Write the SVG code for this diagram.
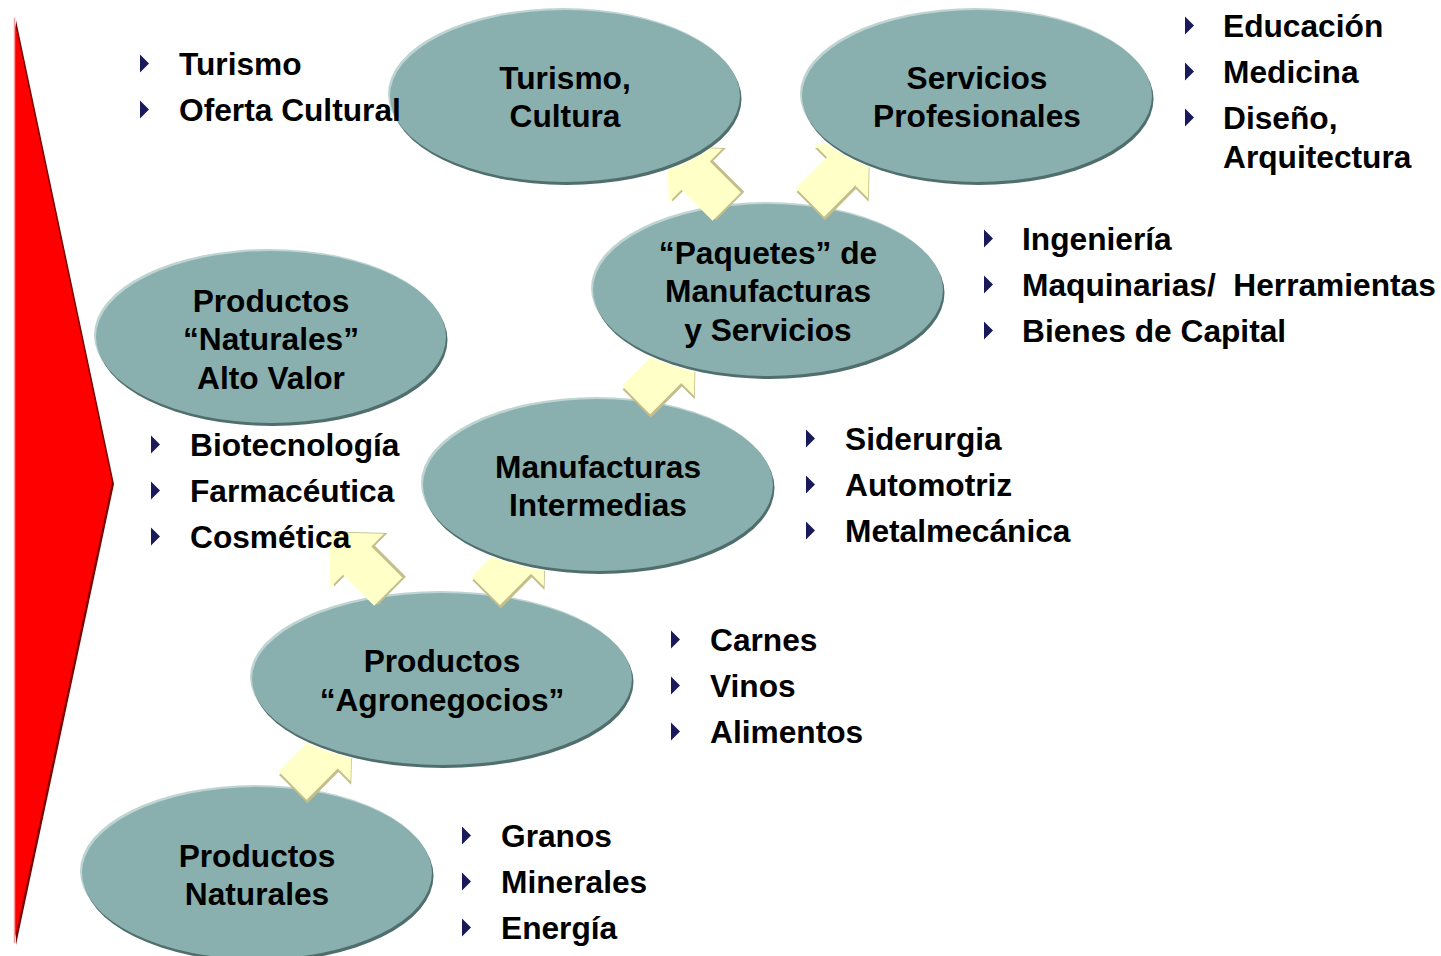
<svg xmlns="http://www.w3.org/2000/svg" width="1441" height="956" viewBox="0 0 1441 956">
<style>
.lbl{font-family:"Liberation Sans",Arial,sans-serif;font-weight:bold;font-size:31.7px;fill:#000;white-space:pre}
.c{text-anchor:middle}
.ell{fill:#89B0AE}
.rim{fill:#4F6E6C}
.hi{fill:#BDD4D2}
.arr{fill:#FFFFC8}
.arrs{fill:#C4BE8A}
.bul{fill:#1A1A5A}
</style>
<defs>
<path id="arrow" d="M-20,0 L-20,-44 L-38,-44 L0,-84 L38,-44 L20,-44 L20,0 Z"/>
<path id="bullet" d="M0,0 L9,9 L0,18 Z"/>
<mask id="m-agro" maskUnits="userSpaceOnUse" x="0" y="0" width="1441" height="956"><rect width="1441" height="956" fill="#fff"/><ellipse cx="443" cy="680" rx="192" ry="89" fill="#000"/></mask>
<mask id="m-alto" maskUnits="userSpaceOnUse" x="0" y="0" width="1441" height="956"><rect width="1441" height="956" fill="#fff"/><ellipse cx="272" cy="338" rx="177" ry="89" fill="#000"/></mask>
<mask id="m-manuf" maskUnits="userSpaceOnUse" x="0" y="0" width="1441" height="956"><rect width="1441" height="956" fill="#fff"/><ellipse cx="599" cy="486" rx="177" ry="89" fill="#000"/></mask>
<mask id="m-paq" maskUnits="userSpaceOnUse" x="0" y="0" width="1441" height="956"><rect width="1441" height="956" fill="#fff"/><ellipse cx="769" cy="291" rx="177" ry="89" fill="#000"/></mask>
<mask id="m-tur" maskUnits="userSpaceOnUse" x="0" y="0" width="1441" height="956"><rect width="1441" height="956" fill="#fff"/><ellipse cx="566" cy="97" rx="177" ry="89" fill="#000"/></mask>
<mask id="m-serv" maskUnits="userSpaceOnUse" x="0" y="0" width="1441" height="956"><rect width="1441" height="956" fill="#fff"/><ellipse cx="978" cy="97" rx="177" ry="89" fill="#000"/></mask>
</defs>
<rect width="1441" height="956" fill="#fff"/>

<g id="red-triangle">
<polygon points="16,20 16,945 114,484" fill="#7A0000"/>
<polygon points="14,18 14,943 112,482" fill="#FF0000"/>
<line x1="14.5" y1="18" x2="14.5" y2="943" stroke="#FF9A9A" stroke-width="1.5"/>
</g>

<g id="node-productos-naturales">
<ellipse class="hi" cx="255" cy="871" rx="175" ry="86"/>
<ellipse class="rim" cx="258.5" cy="876" rx="175" ry="86"/>
<ellipse class="ell" cx="257" cy="873" rx="175" ry="86"/>
<text class="lbl c" x="257" y="867">Productos</text>
<text class="lbl c" x="257" y="905">Naturales</text>
</g>

<g id="node-agronegocios">
<ellipse class="hi" cx="440" cy="677" rx="190" ry="86"/>
<ellipse class="rim" cx="443.5" cy="682" rx="190" ry="86"/>
<ellipse class="ell" cx="442" cy="679" rx="190" ry="86"/>
<text class="lbl c" x="442" y="672">Productos</text>
<text class="lbl c" x="442" y="711">“Agronegocios”</text>
</g>

<g id="node-naturales-alto-valor">
<ellipse class="hi" cx="269" cy="335" rx="175" ry="86"/>
<ellipse class="rim" cx="272.5" cy="340" rx="175" ry="86"/>
<ellipse class="ell" cx="271" cy="337" rx="175" ry="86"/>
<text class="lbl c" x="271" y="312">Productos</text>
<text class="lbl c" x="271" y="350">“Naturales”</text>
<text class="lbl c" x="271" y="389">Alto Valor</text>
</g>

<g id="node-manufacturas-intermedias">
<ellipse class="hi" cx="596" cy="483" rx="175" ry="86"/>
<ellipse class="rim" cx="599.5" cy="488" rx="175" ry="86"/>
<ellipse class="ell" cx="598" cy="485" rx="175" ry="86"/>
<text class="lbl c" x="598" y="478">Manufacturas</text>
<text class="lbl c" x="598" y="516">Intermedias</text>
</g>

<g id="node-paquetes">
<ellipse class="hi" cx="766" cy="288" rx="175" ry="86"/>
<ellipse class="rim" cx="769.5" cy="293" rx="175" ry="86"/>
<ellipse class="ell" cx="768" cy="290" rx="175" ry="86"/>
<text class="lbl c" x="768" y="264">“Paquetes” de</text>
<text class="lbl c" x="768" y="302">Manufacturas</text>
<text class="lbl c" x="768" y="341">y Servicios</text>
</g>

<g id="node-turismo-cultura">
<ellipse class="hi" cx="563" cy="94" rx="175" ry="86"/>
<ellipse class="rim" cx="566.5" cy="99" rx="175" ry="86"/>
<ellipse class="ell" cx="565" cy="96" rx="175" ry="86"/>
<text class="lbl c" x="565" y="89">Turismo,</text>
<text class="lbl c" x="565" y="127">Cultura</text>
</g>

<g id="node-servicios-profesionales">
<ellipse class="hi" cx="975" cy="94" rx="175" ry="86"/>
<ellipse class="rim" cx="978.5" cy="99" rx="175" ry="86"/>
<ellipse class="ell" cx="977" cy="96" rx="175" ry="86"/>
<text class="lbl c" x="977" y="89">Servicios</text>
<text class="lbl c" x="977" y="127">Profesionales</text>
</g>

<g id="connectors">
<g mask="url(#m-agro)"><g transform="translate(292.5,785.5) rotate(45)"><use href="#arrow" class="arrs" x="3" y="2"/><use href="#arrow" class="arr"/></g></g>
<g mask="url(#m-alto)"><g transform="translate(388.3,591.7) rotate(-45)"><use href="#arrow" class="arrs" x="3" y="2"/><use href="#arrow" class="arr"/></g></g>
<g mask="url(#m-manuf)"><g transform="translate(485.8,590.8) rotate(45)"><use href="#arrow" class="arrs" x="3" y="2"/><use href="#arrow" class="arr"/></g></g>
<g mask="url(#m-paq)"><g transform="translate(636,400) rotate(45)"><use href="#arrow" class="arrs" x="3" y="2"/><use href="#arrow" class="arr"/></g></g>
<g mask="url(#m-tur)"><g transform="translate(726.7,206.7) rotate(-45)"><use href="#arrow" class="arrs" x="3" y="2"/><use href="#arrow" class="arr"/></g></g>
<g mask="url(#m-serv)"><g transform="translate(810,202.5) rotate(45)"><use href="#arrow" class="arrs" x="3" y="2"/><use href="#arrow" class="arr"/></g></g>
</g>

<g id="list-turismo">
<use href="#bullet" class="bul" x="140" y="54.5"/><text class="lbl" x="179" y="75">Turismo</text>
<use href="#bullet" class="bul" x="140" y="100.5"/><text class="lbl" x="179" y="121">Oferta Cultural</text>
</g>

<g id="list-servicios">
<use href="#bullet" class="bul" x="1185" y="16.5"/><text class="lbl" x="1223" y="37">Educación</text>
<use href="#bullet" class="bul" x="1185" y="62.5"/><text class="lbl" x="1223" y="83">Medicina</text>
<use href="#bullet" class="bul" x="1185" y="108.5"/><text class="lbl" x="1223" y="129">Diseño,</text>
<text class="lbl" x="1223" y="168">Arquitectura</text>
</g>

<g id="list-paquetes">
<use href="#bullet" class="bul" x="984" y="229.5"/><text class="lbl" x="1022" y="250">Ingeniería</text>
<use href="#bullet" class="bul" x="984" y="275.5"/><text class="lbl" x="1022" y="296">Maquinarias/  Herramientas</text>
<use href="#bullet" class="bul" x="984" y="321.5"/><text class="lbl" x="1022" y="342">Bienes de Capital</text>
</g>

<g id="list-alto-valor">
<use href="#bullet" class="bul" x="151" y="435.5"/><text class="lbl" x="190" y="456">Biotecnología</text>
<use href="#bullet" class="bul" x="151" y="481.5"/><text class="lbl" x="190" y="502">Farmacéutica</text>
<use href="#bullet" class="bul" x="151" y="527.5"/><text class="lbl" x="190" y="548">Cosmética</text>
</g>

<g id="list-manufacturas">
<use href="#bullet" class="bul" x="806" y="429.5"/><text class="lbl" x="845" y="450">Siderurgia</text>
<use href="#bullet" class="bul" x="806" y="475.5"/><text class="lbl" x="845" y="496">Automotriz</text>
<use href="#bullet" class="bul" x="806" y="521.5"/><text class="lbl" x="845" y="542">Metalmecánica</text>
</g>

<g id="list-agronegocios">
<use href="#bullet" class="bul" x="671" y="630.5"/><text class="lbl" x="710" y="651">Carnes</text>
<use href="#bullet" class="bul" x="671" y="676.5"/><text class="lbl" x="710" y="697">Vinos</text>
<use href="#bullet" class="bul" x="671" y="722.5"/><text class="lbl" x="710" y="743">Alimentos</text>
</g>

<g id="list-naturales">
<use href="#bullet" class="bul" x="462" y="826.5"/><text class="lbl" x="501" y="847">Granos</text>
<use href="#bullet" class="bul" x="462" y="872.5"/><text class="lbl" x="501" y="893">Minerales</text>
<use href="#bullet" class="bul" x="462" y="918.5"/><text class="lbl" x="501" y="939">Energía</text>
</g>
</svg>
